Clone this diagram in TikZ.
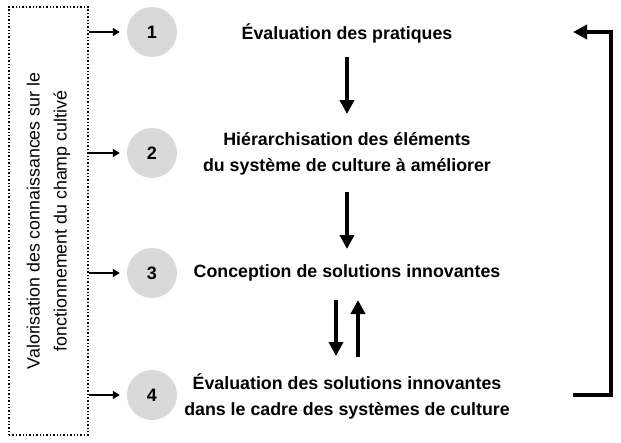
\documentclass[tikz,border=0pt]{standalone}
\usepackage{fontspec}
\setmainfont{Liberation Sans}
\usetikzlibrary{arrows.meta}
\begin{document}
\begin{tikzpicture}[x=1pt,y=-1pt,
  stepnum/.style={circle,fill=black!15,minimum size=50pt,inner sep=0pt,font=\fontsize{18}{20}\selectfont\bfseries},
  steptext/.style={align=center,font=\fontsize{17.8}{26}\selectfont\bfseries},
  sidearrow/.style={line width=1.4pt,-{Triangle[length=7pt,width=8pt]}},
  bigarrow/.style={line width=4pt,-{Triangle[length=14pt,width=14pt]}}]
\useasboundingbox (0,0) rectangle (621,442);
\node[draw,dotted,line width=1.4pt,minimum width=79pt,minimum height=428pt,inner sep=0pt] (box) at (48.5,221) {};
\node[rotate=90,align=center,font=\fontsize{17.8}{27}\selectfont] (boxtext) at (48.5,221) {Valorisation des connaissances sur le\\fonctionnement du champ cultivé};
\node[stepnum] (n1) at (152,32) {1};
\node[stepnum] (n2) at (152,153) {2};
\node[stepnum] (n3) at (152,273) {3};
\node[stepnum] (n4) at (152,395) {4};
\node[steptext] (t1) at (347,33) {Évaluation des pratiques};
\node[steptext] (t2) at (347,154) {Hiérarchisation des éléments\\du système de culture à améliorer};
\node[steptext] (t3) at (347,273) {Conception de solutions innovantes};
\node[steptext] (t4) at (347,396) {Évaluation des solutions innovantes\\dans le cadre des systèmes de culture};
\foreach \i in {1,2,3,4}{
  \draw[sidearrow] (box.east |- n\i) -- ([xshift=-7pt]n\i.west);
}
\coordinate (a1s) at (347,57);
\coordinate (a1e) at (347,114);
\draw[bigarrow] (a1s) -- (a1e);
\coordinate (a2s) at (347,192);
\coordinate (a2e) at (347,249);
\draw[bigarrow] (a2s) -- (a2e);
\coordinate (a3s) at (336,300);
\coordinate (a3e) at (336,356);
\draw[bigarrow] (a3s) -- (a3e);
\coordinate (a4s) at (358,357);
\coordinate (a4e) at (358,300);
\draw[bigarrow] (a4s) -- (a4e);
\coordinate (fbs) at (573,395);
\coordinate (fbc) at (611,395);
\coordinate (fbt) at (611,32);
\coordinate (fbe) at (573,32);
\draw[line width=4pt,-{Triangle[length=14pt,width=14pt]}] (fbs) -- (fbc) -- (fbt) -- (fbe);
\end{tikzpicture}
\end{document}
